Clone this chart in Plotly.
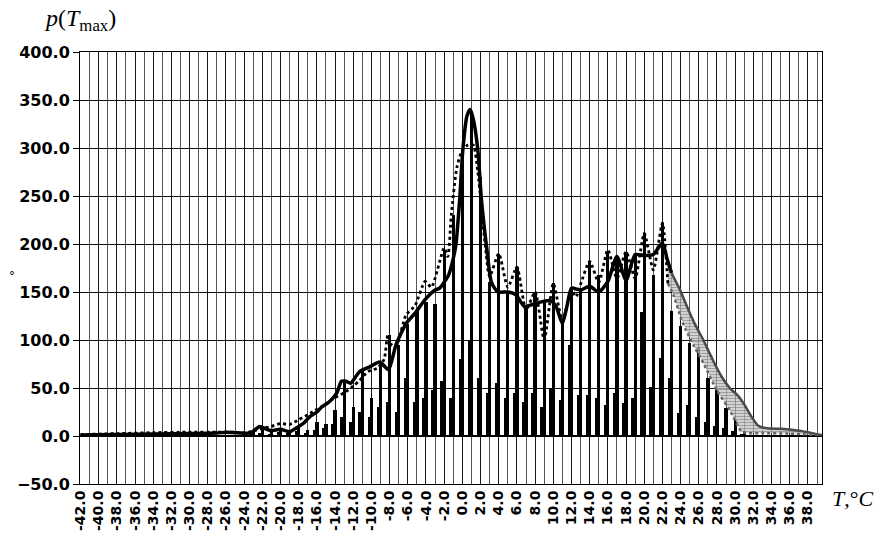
import plotly.graph_objects as go

# ---- data ----
solid_T = [-42, -38, -34, -30, -27, -26, -25, -24, -23.5, -23, -22.3, -21.5, -21, -20, -19, -18, -17.5,
           -16.8, -16, -15.5, -14.6, -13.8, -13.3, -12.8, -12.3, -11.3, -10.2, -9.1, -8.5, -8.1, -7.3,
           -6.2, -5.2, -4.1, -3.0, -2.5, -1.5, -1.0, -0.7, -0.3, 0.05, 0.5, 0.85, 1.2, 1.7, 2.1, 2.7,
           3.2, 3.9, 5.0, 5.9, 6.8, 7.7, 8.8, 9.7, 10.3, 11.0, 11.5, 12.0, 13.0, 14.0, 15.0, 16.0,
           17.0, 18.0, 19.0, 20.0, 21.0, 22.0, 22.5, 23.0]
solid_v = [1, 1.5, 2, 2.5, 3, 4, 3.5, 3, 3, 5, 10, 7, 5.5, 7, 4.5, 10, 13,
           20, 25, 30, 36, 45, 57, 57, 55, 67, 72, 77, 72, 69, 95,
           117, 128, 142, 152, 154, 168, 185, 200, 246, 298, 333, 340, 330, 298, 246, 194,
           160, 150, 150, 147, 135, 137, 140, 141, 135, 117, 135, 154, 152, 156, 150, 161,
           187, 162, 189, 188, 189, 201, 185, 170]

dotted_T = [-42, -38, -34, -30, -27, -25, -24, -23, -22, -21, -20, -19, -18, -17, -16, -15, -14.2,
            -13, -12, -11.3, -10.4, -9.3, -8.6, -8.2, -7.8, -7.3, -6.2, -5.2, -4.1, -3.4, -2.0,
            -1.6, -1.2, -0.6, 0.0, 0.6, 1.2, 1.7, 2.5, 3.0, 4.0, 5.0, 6.0, 7.0, 8.0, 9.0, 10.0,
            11.0, 12.0, 12.5, 13.0, 14.0, 15.0, 16.0, 17.0, 18.0, 19.0, 20.0, 21.0, 22.0, 22.6]
dotted_v = [1.5, 2.5, 3.5, 4, 4, 4, 3, 5, 8, 10, 13, 12, 17, 22, 28, 33, 39,
            45, 52, 58, 67, 71, 80, 105, 95, 93, 126, 136, 161, 155, 196,
            187, 232, 280, 298, 303, 303, 275, 200, 166, 190, 155, 176, 131, 150, 100, 159,
            120, 152, 145, 158, 182, 160, 194, 164, 192, 164, 211, 173, 222, 159]

upper_T = [22.5, 23.0, 23.9, 24.7, 25.6, 26.5, 27.5, 28.5, 29.4, 30.3, 31.0, 31.8, 32.5, 33.5,
           35.0, 37.0, 38.5, 39.5]
upper_v = [185, 170, 153, 135, 116, 100, 80, 62, 50, 42, 33, 20, 11, 8, 7.5, 5.5, 3, 1]

lower_T = [22.6, 23.2, 24.1, 24.6, 25.5, 26.5, 27.95, 29.4, 30.7, 31.5, 33.0, 36.0, 39.5]
lower_v = [159, 147, 121, 110, 93, 76, 48, 27, 4.5, 3, 3, 2.5, 1]

bar_T = list(range(-24, 32))
bar_tall = [3, 4, 8, 6, 8, 6, 10, 6, 15, 12,
            27, 57, 30, 68, 40, 75, 105, 95, 117, 130,
            140, 138, 194, 230, 300, 335, 270, 160, 190, 150,
            176, 135, 150, 140, 159, 118, 152, 153, 182, 168,
            192, 187, 192, 190, 211, 168, 222, 130, 115, 97,
            93, 60, 48, 29, 17, 5]
bar_short = [1, 2, 3, 2, 4, 3, 5, 3,
             6, 8, 12, 20, 15, 25, 20, 30, 35, 25,
             60, 35, 40, 48, 57, 40, 80, 100, 60, 45,
             55, 40, 45, 35, 45, 30, 50, 37, 95, 43,
             43, 40, 32, 45, 34, 40, 129, 51, 81, 60,
             24, 32, 20, 15, 10, 8, 5, 2]

x_ticks = list(range(-42, 39, 2))

fig = go.Figure()

fig.add_trace(go.Bar(x=[t - 0.3 for t in bar_T], y=bar_short, width=0.25,
                     marker=dict(color="black", line=dict(width=0)), showlegend=False))
fig.add_trace(go.Bar(x=bar_T, y=bar_tall, width=0.36,
                     marker=dict(color="black", line=dict(width=0)), showlegend=False))

# hatched grey region between the two curves
fig.add_trace(go.Scatter(x=upper_T + lower_T[::-1], y=upper_v + lower_v[::-1],
                         mode="lines", line=dict(width=0), fill="toself",
                         fillcolor="rgba(180,180,180,0.6)",
                         fillpattern=dict(shape="-", fgcolor="#666666", bgcolor="rgba(205,205,205,0.7)",
                                          size=3, solidity=0.45),
                         showlegend=False, hoverinfo="skip"))

fig.add_trace(go.Scatter(x=lower_T, y=lower_v, mode="lines",
                         line=dict(color="#666666", width=2.5, dash="dot", shape="spline", smoothing=0.5),
                         showlegend=False))
fig.add_trace(go.Scatter(x=upper_T, y=upper_v, mode="lines",
                         line=dict(color="#4a4a4a", width=2.5, shape="spline", smoothing=0.5),
                         showlegend=False))
fig.add_trace(go.Scatter(x=dotted_T, y=dotted_v, mode="lines",
                         line=dict(color="black", width=2.8, dash="dot", shape="spline", smoothing=0.6),
                         showlegend=False))
fig.add_trace(go.Scatter(x=solid_T, y=solid_v, mode="lines",
                         line=dict(color="black", width=3.5, shape="spline", smoothing=0.6),
                         showlegend=False))

xfont = dict(family="DejaVu Sans, sans-serif", size=14, color="black", weight="bold")
yfont = dict(family="DejaVu Sans, sans-serif", size=16, color="black", weight="bold")
serif = "Liberation Serif, Times New Roman, serif"

fig.update_layout(
    width=881, height=533,
    margin=dict(l=80, r=59, t=52, b=49, autoexpand=False),
    paper_bgcolor="white", plot_bgcolor="white",
    barmode="overlay", bargap=0,
    xaxis=dict(range=[-42.05, 39.55], tickmode="array", tickvals=x_ticks,
               ticktext=["%.1f" % t for t in x_ticks], tickangle=-90, tickfont=xfont,
               showgrid=True, gridcolor="#1a1a1a", gridwidth=1,
               minor=dict(tickmode="linear", tick0=-42, dtick=1, showgrid=True,
                          gridcolor="#555555", gridwidth=1),
               showline=True, linecolor="black", linewidth=1, mirror=True,
               ticks="", zeroline=False, automargin=False),
    yaxis=dict(range=[-50, 400], tickmode="linear", tick0=-50, dtick=50, tickformat=".1f",
               tickfont=yfont, showgrid=True, gridcolor="#111111", gridwidth=1,
               ticks="outside", ticklen=6, tickcolor="black",
               showline=True, linecolor="black", linewidth=1, mirror=True,
               zeroline=True, zerolinecolor="black", zerolinewidth=1.5, automargin=False),
    annotations=[
        dict(text="<i>p</i>(<i>T</i><sub>max</sub>)", xref="paper", yref="paper",
             x=0, y=1.0, xshift=-38, yshift=32, xanchor="left", yanchor="middle", showarrow=False,
             font=dict(family=serif, size=24, color="black")),
        dict(text="<i>T</i>,°<i>C</i>", xref="paper", yref="paper",
             x=1.0, y=0.0, xshift=8, yshift=-14, xanchor="left", yanchor="middle", showarrow=False,
             font=dict(family=serif, size=22, color="black")),
        dict(text="°", xref="paper", yref="paper", x=0, y=0.481, xshift=-68,
             xanchor="center", yanchor="middle", showarrow=False,
             font=dict(family="DejaVu Sans, sans-serif", size=12, color="black")),
    ],
)

fig.write_html("out.html", config={"displayModeBar": False},
               post_script="document.body.style.margin='0';")
